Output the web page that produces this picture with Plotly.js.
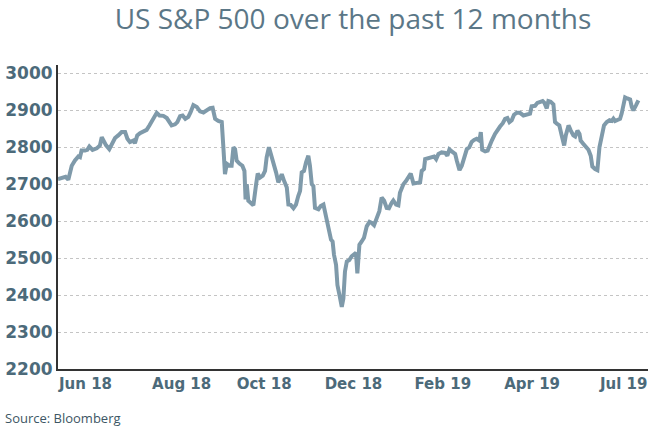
<!DOCTYPE html>
<html>
<head>
<meta charset="utf-8">
<script src="https://cdn.plot.ly/plotly-3.0.1.min.js"></script>
<style>html,body{margin:0;padding:0;background:#fff;}#chart{width:650px;height:429px;}</style>
</head>
<body>
<div id="chart"></div>
<script>
// Trading-day index (approx., from chart start) and S&P 500 level
const tradingDay = [
  0, 2.3, 3.3, 4.5, 5.2, 6.0, 7.4, 8.9, 9.6, 10.3, 11.8, 12.8, 13.7, 15.1, 16.9, 18.3, 19.1, 19.8, 21.0, 22.4,
  23.4, 24.9, 26.3, 27.8, 29.3, 30.3, 31.4, 32.9, 33.6, 34.6, 35.8, 37.3, 38.7, 39.9, 40.9, 41.9, 43.1, 44.3, 46.0, 47.5,
  48.6, 49.6, 51.1, 52.1, 53.3, 54.4, 55.6, 56.9, 57.9, 59.1, 60.6, 62.0,
  63.5, 64.9, 66.4, 67.5, 68.6, 70.0, 71.5, 72.2, 72.9, 73.7, 74.8, 75.8, 76.6, 77.3, 78.0, 79.2, 80.5, 81.4, 81.9, 82.4,
  83.1, 84.1, 85.3, 86.5, 87.2, 88.2, 89.4, 90.4, 91.1, 92.1, 93.0, 94.0, 95.2, 96.2, 96.9, 97.7, 98.7, 99.9, 100.6, 101.6,
  102.8, 103.9, 104.9, 105.7, 106.4, 107.4, 108.3, 109.3, 110.0, 110.8, 111.5, 112.2, 113.7, 114.7, 115.9, 116.6, 117.3, 118.5, 119.2, 119.9,
  120.5, 121.4, 122.0, 122.9, 123.9, 124.6, 125.3, 126.1, 127.2, 128.2, 129.3, 130.1, 130.7, 131.6, 132.6, 133.6, 134.8, 136.0, 137.0, 138.0,
  139.2, 140.3, 141.3, 142.4, 143.5, 144.5, 145.7, 146.4, 147.6, 148.6, 149.3, 150.8, 152.0, 153.0, 154.0, 155.2, 157.4,
  158.1, 158.8, 159.8, 160.3, 161.7, 163.2, 164.2, 165.1, 166.1, 167.5, 169.0, 170.0, 170.9, 171.9, 173.4, 174.1, 175.3, 176.3, 177.3, 178.5,
  179.6, 180.6, 181.7, 182.8, 184.0, 184.6, 185.2, 186.5, 187.6, 188.4, 189.4, 190.8, 192.0, 193.0, 194.2, 195.2, 196.2, 197.1, 198.1, 199.1,
  200.3, 201.7, 203.2, 204.7, 206.1, 206.8, 208.3, 209.3, 210.5, 211.6, 212.4, 213.4, 214.1, 215.1, 216.3, 217.0, 217.8, 218.9, 219.9, 221.0,
  221.7, 222.9, 223.9, 225.0, 225.8, 226.8, 227.7, 228.2, 229.4, 230.6, 231.6, 232.6, 233.3, 234.5, 235.5, 236.4, 237.4, 238.4, 239.6, 240.8,
  241.8, 242.5, 243.2, 244.3, 245.4, 246.1, 246.9, 247.6, 248.6, 249.8, 250.5, 251.2, 252.4, 253.4
];
const spxLevel = [
  2714, 2718, 2720, 2712, 2727, 2750, 2764, 2775, 2773, 2791, 2791, 2793, 2802, 2793, 2797, 2805, 2827, 2818, 2805, 2795,
  2805, 2825, 2832, 2841, 2841, 2823, 2814, 2818, 2811, 2832, 2838, 2843, 2847, 2859, 2871, 2882, 2893, 2886, 2885, 2879,
  2868, 2859, 2862, 2868, 2884, 2886, 2877, 2882, 2895, 2914, 2909, 2897,
  2894, 2900, 2906, 2907, 2877, 2871, 2868, 2800, 2727, 2755, 2750, 2750, 2800, 2795, 2764, 2756, 2750, 2736, 2659, 2700,
  2655, 2650, 2643, 2700, 2729, 2718, 2723, 2736, 2773, 2800, 2782, 2755, 2732, 2705, 2714, 2727, 2709, 2691, 2645, 2644,
  2635, 2645, 2668, 2682, 2732, 2736, 2759, 2777, 2750, 2700, 2695, 2636, 2632, 2641, 2645, 2627, 2600, 2568, 2550, 2545,
  2509, 2482, 2427, 2400, 2368, 2391, 2464, 2491, 2495, 2505, 2512, 2514, 2459, 2536, 2545, 2555, 2586, 2598, 2595, 2589,
  2609, 2627, 2664, 2655, 2636, 2635, 2650, 2656, 2645, 2643, 2677, 2700, 2709, 2720, 2729, 2702, 2705,
  2705, 2736, 2741, 2768, 2771, 2773, 2775, 2768, 2782, 2786, 2785, 2777, 2794, 2789, 2782, 2764, 2738, 2750, 2768, 2795,
  2800, 2814, 2820, 2823, 2818, 2841, 2793, 2789, 2791, 2805, 2818, 2836, 2850, 2856, 2865, 2877, 2879, 2868, 2873, 2888,
  2893, 2893, 2886, 2889, 2891, 2911, 2912, 2920, 2923, 2925, 2920, 2905, 2925, 2923, 2916, 2868, 2864, 2859, 2832, 2805,
  2832, 2859, 2845, 2832, 2829, 2845, 2836, 2818, 2809, 2800, 2793, 2777, 2748, 2741, 2738, 2800, 2832, 2859, 2868, 2873,
  2871, 2877, 2871, 2875, 2877, 2891, 2914, 2935, 2932, 2929, 2909, 2900, 2914, 2927
];
const xTickDays = [12, 54, 90, 129, 168, 207, 247];
const xTickLabels = ['Jun 18', 'Aug 18', 'Oct 18', 'Dec 18', 'Feb 19', 'Apr 19', 'Jul 19'];
const yTickValues = [2200, 2300, 2400, 2500, 2600, 2700, 2800, 2900, 3000];

const xTickFont = {family: 'DejaVu Sans', size: 15, color: '#4c6a7a', weight: 'bold'};
const yTickFont = {family: 'DejaVu Sans', size: 17, color: '#4c6a7a', weight: 'bold'};

const trace = {
  x: tradingDay, y: spxLevel, type: 'scatter', mode: 'lines',
  line: {color: '#7f9aaa', width: 4}, hoverinfo: 'skip'
};

const layout = {
  width: 650, height: 429,
  margin: {l: 58, r: 2, t: 65, b: 60},
  paper_bgcolor: '#fff', plot_bgcolor: '#fff',
  showlegend: false,
  title: {
    text: 'US S&amp;P 500 over the past 12 months',
    font: {family: 'Open Sans', size: 28, color: '#5b7787'},
    x: 0.5, xref: 'paper', xanchor: 'center',
    y: 1 - 19/429, yref: 'container', yanchor: 'middle'
  },
  xaxis: {
    range: [0, 257.6], showgrid: false, zeroline: false,
    showline: true, linecolor: '#333', linewidth: 2,
    tickmode: 'array', tickvals: xTickDays, ticktext: xTickLabels,
    ticks: '', tickfont: xTickFont, fixedrange: true
  },
  yaxis: {
    range: [2200, 3022.5], zeroline: false,
    showline: true, linecolor: '#333', linewidth: 2,
    tickmode: 'array', tickvals: yTickValues,
    showgrid: true, gridcolor: '#c4c4c4', gridwidth: 1, griddash: 'dot',
    ticks: '', tickfont: yTickFont, fixedrange: true
  },
  annotations: [{
    text: 'Source: Bloomberg', showarrow: false,
    xref: 'paper', yref: 'paper', x: -55/590, y: -49/304,
    xanchor: 'left', yanchor: 'middle',
    font: {family: 'Open Sans', size: 13, color: '#3d5664'}
  }]
};

Plotly.newPlot('chart', [trace], layout, {staticPlot: true, displayModeBar: false});
</script>
</body>
</html>
